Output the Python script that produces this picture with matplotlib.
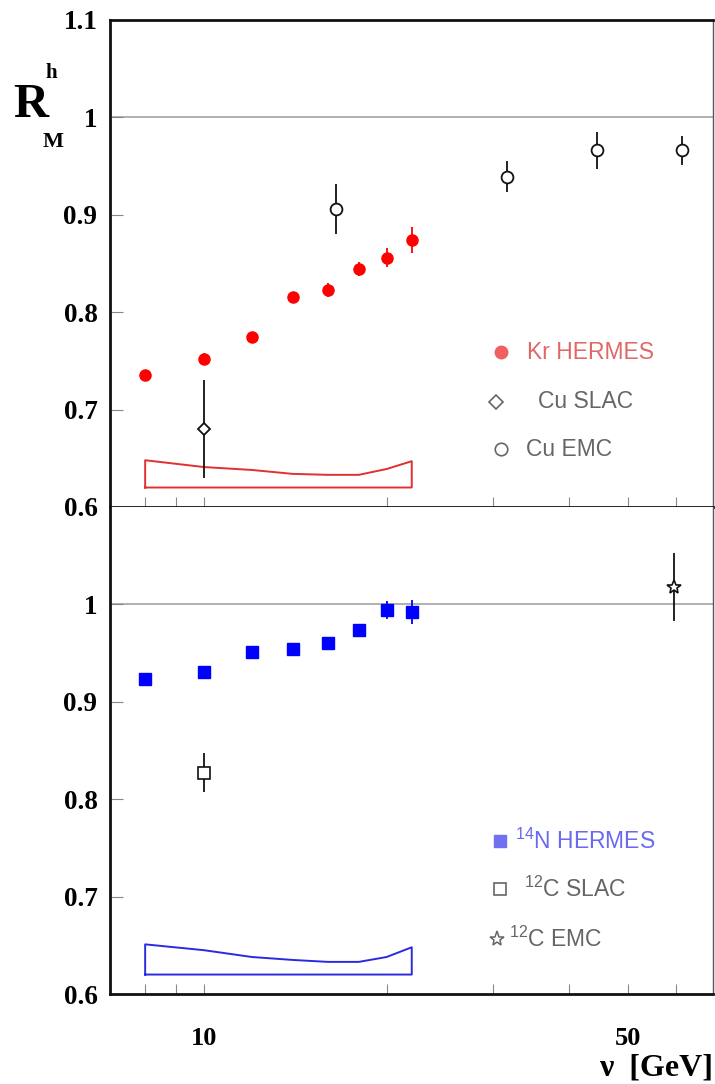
import matplotlib
matplotlib.use('Agg')
import matplotlib.pyplot as plt
from matplotlib.ticker import NullFormatter

plt.rcParams['font.family'] = ['Liberation Serif', 'DejaVu Serif']
plt.rcParams['font.weight'] = 'bold'
plt.rcParams['mathtext.fontset'] = 'custom'
plt.rcParams['mathtext.rm'] = 'Liberation Sans'
plt.rcParams['mathtext.default'] = 'regular'

# Kr HERMES
kr_nu = [8, 10, 12, 14, 16, 18, 20, 22]
kr_r = [0.735, 0.752, 0.775, 0.816, 0.823, 0.844, 0.856, 0.874]
kr_err = [0.006, 0.006, 0.005, 0.005, 0.007, 0.007, 0.010, 0.013]
kr_sys = [0.648, 0.641, 0.638, 0.634, 0.633, 0.633, 0.639, 0.647]

# Cu SLAC / Cu EMC
cu_slac_nu = [10]
cu_slac_r = [0.680]
cu_slac_err = [0.050]
cu_emc_nu = [16.5, 31.6, 44.4, 61.4]
cu_emc_r = [0.906, 0.939, 0.966, 0.966]
cu_emc_err = [0.026, 0.016, 0.019, 0.015]

# 14N HERMES
n_nu = [8, 10, 12, 14, 16, 18, 20, 22]
n_r = [0.923, 0.931, 0.951, 0.954, 0.960, 0.974, 0.994, 0.992]
n_err = [0.005, 0.005, 0.004, 0.004, 0.005, 0.006, 0.009, 0.012]
n_sys = [0.651, 0.645, 0.638, 0.635, 0.633, 0.633, 0.638, 0.648]

# 12C SLAC / 12C EMC
c_slac_nu = [10]
c_slac_r = [0.827]
c_slac_err = [0.020]
c_emc_nu = [59.5]
c_emc_r = [1.018]
c_emc_err = [0.035]

sys_base = 0.62
yticks = [0.6, 0.7, 0.8, 0.9, 1.0, 1.1]
ylabels = ['0.6', '0.7', '0.8', '0.9', '1', '1.1']

fig = plt.figure(figsize=(7.15, 10.84), dpi=100)
ax1 = fig.add_axes([0.1538, 0.5323, 0.8434, 0.4493])
ax2 = fig.add_axes([0.1538, 0.0830, 0.8434, 0.4493])


def band(ax, nu, top, color):
    xs = [nu[0]] + list(nu) + [nu[-1], nu[0]]
    ys = [sys_base] + list(top) + [sys_base, sys_base]
    ax.plot(xs, ys, color=color, lw=1.4, zorder=2)


def style(ax, first):
    ax.set_xscale('log')
    ax.set_xlim(7, 69)
    ax.set_ylim(0.6, 1.1)
    ax.axhline(1.0, color='#aaaaaa', lw=1.3, zorder=1)
    for s in ['left', 'bottom', 'top']:
        ax.spines[s].set_linewidth(2)
        ax.spines[s].set_color('#111111')
    ax.spines['right'].set_linewidth(1)
    ax.spines['right'].set_color('#555555')
    if not first:
        ax.spines['top'].set_visible(False)
    ax.set_xticks([10, 50])
    ax.set_xticks([8, 9, 20, 30, 40, 60], minor=True)
    ax.xaxis.set_minor_formatter(NullFormatter())
    ax.tick_params(axis='x', which='both', direction='in', length=7,
                   width=0.8, color='#888888', top=False, labelsize=19, pad=24)
    if first:
        ax.set_yticks(yticks)
        ax.set_yticklabels(ylabels)
        ax.set_xticklabels([])
    else:
        ax.set_yticks(yticks[:-1])
        ax.set_yticklabels(ylabels[:-1])
        ax.set_xticklabels(['10', '50'])
    ax.tick_params(axis='y', which='both', direction='in', length=9,
                   width=0.8, color='#888888', right=False, labelsize=19.5, pad=9)
    ax.yaxis.set_minor_locator(plt.NullLocator())


style(ax1, True)
style(ax2, False)

# upper panel
band(ax1, kr_nu, kr_sys, '#e03030')
ax1.errorbar(kr_nu, kr_r, yerr=kr_err, fmt='o', color='#ff0000', ms=8,
             elinewidth=1.3, capsize=0, zorder=4)
ax1.errorbar(cu_slac_nu, cu_slac_r, yerr=cu_slac_err, fmt='D', ms=6.5,
             mfc='white', mec='#111111', mew=1.3, color='#111111',
             elinewidth=1.3, capsize=0, zorder=3)
ax1.errorbar(cu_emc_nu, cu_emc_r, yerr=cu_emc_err, fmt='o', ms=8.5,
             mfc='white', mec='#111111', mew=1.3, color='#111111',
             elinewidth=1.3, capsize=0, zorder=3)

# lower panel
band(ax2, n_nu, n_sys, '#2a2ae0')
ax2.errorbar(n_nu, n_r, yerr=n_err, fmt='s', color='#0000ff', ms=8,
             elinewidth=1.3, capsize=0, zorder=4)
ax2.errorbar(c_slac_nu, c_slac_r, yerr=c_slac_err, fmt='s', ms=8.5,
             mfc='white', mec='#111111', mew=1.2, color='#111111',
             elinewidth=1.3, capsize=0, zorder=3)
ax2.errorbar(c_emc_nu, c_emc_r, yerr=c_emc_err, fmt='*', ms=10,
             mfc='white', mec='#111111', mew=1.2, color='#111111',
             elinewidth=1.3, capsize=0, zorder=3)

# legends
lab = dict(transform=ax1.transAxes, family='Liberation Sans',
           fontweight='normal', fontsize=16.5, va='center', ha='left')
ax1.plot([0.648], [0.318], 'o', color='#f06060', ms=9, transform=ax1.transAxes)
ax1.text(0.692, 0.318, 'Kr HERMES', color='#e06868', **lab)
ax1.plot([0.640], [0.216], 'D', mfc='white', mec='#666666', mew=1.2, ms=7,
         transform=ax1.transAxes)
ax1.text(0.710, 0.216, 'Cu SLAC', color='#666666', **lab)
ax1.plot([0.648], [0.119], 'o', mfc='white', mec='#666666', mew=1.2, ms=9,
         transform=ax1.transAxes)
ax1.text(0.690, 0.119, 'Cu EMC', color='#666666', **lab)

lab['transform'] = ax2.transAxes
ax2.plot([0.647], [0.314], 's', color='#7070f0', ms=8.5, transform=ax2.transAxes)
ax2.text(0.672, 0.314, '$^{14}$N HERMES', color='#6a6af0', **lab)
ax2.plot([0.647], [0.216], 's', mfc='white', mec='#666666', mew=1.2, ms=9,
         transform=ax2.transAxes)
ax2.text(0.687, 0.216, '$^{12}$C SLAC', color='#666666', **lab)
ax2.plot([0.642], [0.113], '*', mfc='white', mec='#666666', mew=1.1, ms=11,
         transform=ax2.transAxes)
ax2.text(0.662, 0.113, '$^{12}$C EMC', color='#666666', **lab)

# axis titles
fig.text(0.018, 1 - 117 / 1084, 'R', fontsize=35, fontweight='bold', va='baseline')
fig.text(0.063, 1 - 78 / 1084, 'h', fontsize=15, fontweight='bold', va='baseline')
fig.text(0.060, 1 - 147 / 1084, 'M', fontsize=16, fontweight='bold', va='baseline')
fig.text(0.997, 1 - 1068 / 1084, 'ν  [GeV]', fontsize=23, fontweight='bold',
         ha='right', va='center')

fig.savefig('out.png', dpi=100)
